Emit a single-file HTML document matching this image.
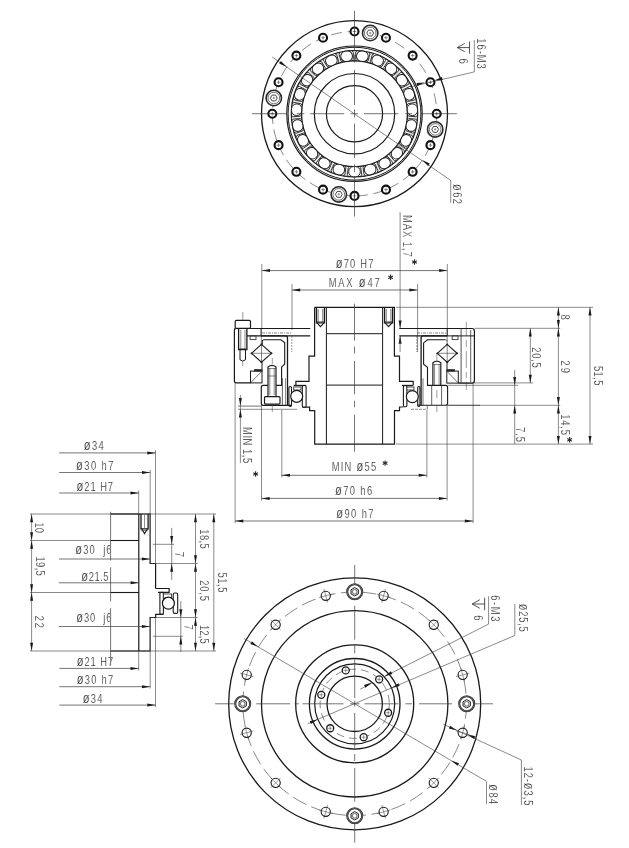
<!DOCTYPE html>
<html><head><meta charset="utf-8"><style>
html,body{margin:0;padding:0;background:#fff;width:629px;height:848px;overflow:hidden}
svg{display:block;filter:grayscale(1)}
text{font-family:"Liberation Sans",sans-serif}
</style></head><body>
<svg width="629" height="848" viewBox="0 0 629 848">
<rect width="629" height="848" fill="#fff"/>
<circle cx="354.50" cy="113.70" r="93.00" stroke="#1a1a1a" stroke-width="1.3" fill="none"/>
<circle cx="354.50" cy="113.70" r="82.20" stroke="#3a3a3a" stroke-width="0.6" fill="none" stroke-dasharray="11 5.5"/>
<circle cx="354.50" cy="31.50" r="4.00" stroke="#111" stroke-width="2.1" fill="#fff"/>
<line x1="352.70" y1="31.50" x2="356.30" y2="31.50" stroke="#3a3a3a" stroke-width="0.6"/>
<line x1="354.50" y1="29.70" x2="354.50" y2="33.30" stroke="#3a3a3a" stroke-width="0.6"/>
<circle cx="385.96" cy="37.76" r="4.00" stroke="#111" stroke-width="2.1" fill="#fff"/>
<line x1="384.16" y1="37.76" x2="387.76" y2="37.76" stroke="#3a3a3a" stroke-width="0.6"/>
<line x1="385.96" y1="35.96" x2="385.96" y2="39.56" stroke="#3a3a3a" stroke-width="0.6"/>
<circle cx="412.62" cy="55.58" r="4.00" stroke="#111" stroke-width="2.1" fill="#fff"/>
<line x1="410.82" y1="55.58" x2="414.42" y2="55.58" stroke="#3a3a3a" stroke-width="0.6"/>
<line x1="412.62" y1="53.78" x2="412.62" y2="57.38" stroke="#3a3a3a" stroke-width="0.6"/>
<circle cx="430.44" cy="82.24" r="4.00" stroke="#111" stroke-width="2.1" fill="#fff"/>
<line x1="428.64" y1="82.24" x2="432.24" y2="82.24" stroke="#3a3a3a" stroke-width="0.6"/>
<line x1="430.44" y1="80.44" x2="430.44" y2="84.04" stroke="#3a3a3a" stroke-width="0.6"/>
<circle cx="436.70" cy="113.70" r="4.00" stroke="#111" stroke-width="2.1" fill="#fff"/>
<line x1="434.90" y1="113.70" x2="438.50" y2="113.70" stroke="#3a3a3a" stroke-width="0.6"/>
<line x1="436.70" y1="111.90" x2="436.70" y2="115.50" stroke="#3a3a3a" stroke-width="0.6"/>
<circle cx="430.44" cy="145.16" r="4.00" stroke="#111" stroke-width="2.1" fill="#fff"/>
<line x1="428.64" y1="145.16" x2="432.24" y2="145.16" stroke="#3a3a3a" stroke-width="0.6"/>
<line x1="430.44" y1="143.36" x2="430.44" y2="146.96" stroke="#3a3a3a" stroke-width="0.6"/>
<circle cx="412.62" cy="171.82" r="4.00" stroke="#111" stroke-width="2.1" fill="#fff"/>
<line x1="410.82" y1="171.82" x2="414.42" y2="171.82" stroke="#3a3a3a" stroke-width="0.6"/>
<line x1="412.62" y1="170.02" x2="412.62" y2="173.62" stroke="#3a3a3a" stroke-width="0.6"/>
<circle cx="385.96" cy="189.64" r="4.00" stroke="#111" stroke-width="2.1" fill="#fff"/>
<line x1="384.16" y1="189.64" x2="387.76" y2="189.64" stroke="#3a3a3a" stroke-width="0.6"/>
<line x1="385.96" y1="187.84" x2="385.96" y2="191.44" stroke="#3a3a3a" stroke-width="0.6"/>
<circle cx="354.50" cy="195.90" r="4.00" stroke="#111" stroke-width="2.1" fill="#fff"/>
<line x1="352.70" y1="195.90" x2="356.30" y2="195.90" stroke="#3a3a3a" stroke-width="0.6"/>
<line x1="354.50" y1="194.10" x2="354.50" y2="197.70" stroke="#3a3a3a" stroke-width="0.6"/>
<circle cx="323.04" cy="189.64" r="4.00" stroke="#111" stroke-width="2.1" fill="#fff"/>
<line x1="321.24" y1="189.64" x2="324.84" y2="189.64" stroke="#3a3a3a" stroke-width="0.6"/>
<line x1="323.04" y1="187.84" x2="323.04" y2="191.44" stroke="#3a3a3a" stroke-width="0.6"/>
<circle cx="296.38" cy="171.82" r="4.00" stroke="#111" stroke-width="2.1" fill="#fff"/>
<line x1="294.58" y1="171.82" x2="298.18" y2="171.82" stroke="#3a3a3a" stroke-width="0.6"/>
<line x1="296.38" y1="170.02" x2="296.38" y2="173.62" stroke="#3a3a3a" stroke-width="0.6"/>
<circle cx="278.56" cy="145.16" r="4.00" stroke="#111" stroke-width="2.1" fill="#fff"/>
<line x1="276.76" y1="145.16" x2="280.36" y2="145.16" stroke="#3a3a3a" stroke-width="0.6"/>
<line x1="278.56" y1="143.36" x2="278.56" y2="146.96" stroke="#3a3a3a" stroke-width="0.6"/>
<circle cx="272.30" cy="113.70" r="4.00" stroke="#111" stroke-width="2.1" fill="#fff"/>
<line x1="270.50" y1="113.70" x2="274.10" y2="113.70" stroke="#3a3a3a" stroke-width="0.6"/>
<line x1="272.30" y1="111.90" x2="272.30" y2="115.50" stroke="#3a3a3a" stroke-width="0.6"/>
<circle cx="278.56" cy="82.24" r="4.00" stroke="#111" stroke-width="2.1" fill="#fff"/>
<line x1="276.76" y1="82.24" x2="280.36" y2="82.24" stroke="#3a3a3a" stroke-width="0.6"/>
<line x1="278.56" y1="80.44" x2="278.56" y2="84.04" stroke="#3a3a3a" stroke-width="0.6"/>
<circle cx="296.38" cy="55.58" r="4.00" stroke="#111" stroke-width="2.1" fill="#fff"/>
<line x1="294.58" y1="55.58" x2="298.18" y2="55.58" stroke="#3a3a3a" stroke-width="0.6"/>
<line x1="296.38" y1="53.78" x2="296.38" y2="57.38" stroke="#3a3a3a" stroke-width="0.6"/>
<circle cx="323.04" cy="37.76" r="4.00" stroke="#111" stroke-width="2.1" fill="#fff"/>
<line x1="321.24" y1="37.76" x2="324.84" y2="37.76" stroke="#3a3a3a" stroke-width="0.6"/>
<line x1="323.04" y1="35.96" x2="323.04" y2="39.56" stroke="#3a3a3a" stroke-width="0.6"/>
<circle cx="370.18" cy="33.01" r="7.70" stroke="#2a2a2a" stroke-width="1.6" fill="#fff"/>
<circle cx="370.18" cy="33.01" r="5.80" stroke="#3a3a3a" stroke-width="0.7" fill="none"/>
<polygon points="373.58,33.01 371.88,35.95 368.48,35.95 366.78,33.01 368.48,30.07 371.88,30.07" stroke="#1a1a1a" stroke-width="0.8" fill="none"/>
<line x1="368.98" y1="33.01" x2="371.38" y2="33.01" stroke="#3a3a3a" stroke-width="0.5"/>
<line x1="370.18" y1="31.81" x2="370.18" y2="34.21" stroke="#3a3a3a" stroke-width="0.5"/>
<circle cx="435.19" cy="129.38" r="7.70" stroke="#2a2a2a" stroke-width="1.6" fill="#fff"/>
<circle cx="435.19" cy="129.38" r="5.80" stroke="#3a3a3a" stroke-width="0.7" fill="none"/>
<polygon points="438.59,129.38 436.89,132.33 433.49,132.33 431.79,129.38 433.49,126.44 436.89,126.44" stroke="#1a1a1a" stroke-width="0.8" fill="none"/>
<line x1="433.99" y1="129.38" x2="436.39" y2="129.38" stroke="#3a3a3a" stroke-width="0.5"/>
<line x1="435.19" y1="128.18" x2="435.19" y2="130.58" stroke="#3a3a3a" stroke-width="0.5"/>
<circle cx="338.82" cy="194.39" r="7.70" stroke="#2a2a2a" stroke-width="1.6" fill="#fff"/>
<circle cx="338.82" cy="194.39" r="5.80" stroke="#3a3a3a" stroke-width="0.7" fill="none"/>
<polygon points="342.22,194.39 340.52,197.33 337.12,197.33 335.42,194.39 337.12,191.45 340.52,191.45" stroke="#1a1a1a" stroke-width="0.8" fill="none"/>
<line x1="337.62" y1="194.39" x2="340.02" y2="194.39" stroke="#3a3a3a" stroke-width="0.5"/>
<line x1="338.82" y1="193.19" x2="338.82" y2="195.59" stroke="#3a3a3a" stroke-width="0.5"/>
<circle cx="273.81" cy="98.02" r="7.70" stroke="#2a2a2a" stroke-width="1.6" fill="#fff"/>
<circle cx="273.81" cy="98.02" r="5.80" stroke="#3a3a3a" stroke-width="0.7" fill="none"/>
<polygon points="277.21,98.02 275.51,100.96 272.11,100.96 270.41,98.02 272.11,95.07 275.51,95.07" stroke="#1a1a1a" stroke-width="0.8" fill="none"/>
<line x1="272.61" y1="98.02" x2="275.01" y2="98.02" stroke="#3a3a3a" stroke-width="0.5"/>
<line x1="273.81" y1="96.82" x2="273.81" y2="99.22" stroke="#3a3a3a" stroke-width="0.5"/>
<circle cx="354.50" cy="113.70" r="67.70" stroke="#1a1a1a" stroke-width="1.2" fill="none"/>
<circle cx="354.50" cy="113.70" r="66.40" stroke="#1a1a1a" stroke-width="1.0" fill="none"/>
<circle cx="354.50" cy="113.70" r="63.20" stroke="#1a1a1a" stroke-width="1.2" fill="none"/>
<circle cx="354.50" cy="113.70" r="52.90" stroke="#1a1a1a" stroke-width="1.2" fill="none"/>
<polygon points="357.20,50.70 355.70,52.20 355.70,59.20 356.90,60.60 352.10,60.60 353.30,59.20 353.30,52.20 351.80,50.70" stroke="#1a1a1a" stroke-width="0.9" fill="#eee"/>
<polygon points="374.10,53.76 372.25,54.80 370.36,61.54 371.14,63.22 366.52,61.92 368.05,60.90 369.94,54.16 368.90,52.31" stroke="#1a1a1a" stroke-width="0.9" fill="#eee"/>
<polygon points="389.54,61.27 387.48,61.78 383.84,67.76 384.14,69.58 380.04,67.08 381.79,66.51 385.43,60.53 384.93,58.47" stroke="#1a1a1a" stroke-width="0.9" fill="#eee"/>
<polygon points="402.39,72.67 400.27,72.60 395.15,77.38 394.95,79.21 391.67,75.70 393.51,75.62 398.63,70.85 398.70,68.73" stroke="#1a1a1a" stroke-width="0.9" fill="#eee"/>
<polygon points="411.68,87.11 409.66,86.47 403.44,89.69 402.75,91.40 400.54,87.14 402.34,87.56 408.55,84.34 409.19,82.32" stroke="#1a1a1a" stroke-width="0.9" fill="#eee"/>
<polygon points="416.73,103.53 414.96,102.36 408.10,103.79 406.98,105.25 406.00,100.55 407.62,101.44 414.47,100.01 415.63,98.24" stroke="#1a1a1a" stroke-width="0.9" fill="#eee"/>
<polygon points="417.17,120.69 415.77,119.09 408.79,118.62 407.31,119.72 407.64,114.93 408.95,116.22 415.94,116.70 417.54,115.31" stroke="#1a1a1a" stroke-width="0.9" fill="#eee"/>
<polygon points="412.96,137.34 412.05,135.43 405.45,133.08 403.73,133.74 405.34,129.22 406.26,130.82 412.85,133.16 414.77,132.25" stroke="#1a1a1a" stroke-width="0.9" fill="#eee"/>
<polygon points="404.41,152.24 404.05,150.15 398.33,146.11 396.50,146.28 399.27,142.36 399.72,144.15 405.44,148.19 407.53,147.83" stroke="#1a1a1a" stroke-width="0.9" fill="#eee"/>
<polygon points="392.16,164.27 392.38,162.16 387.96,156.73 386.15,156.40 389.87,153.38 389.83,155.22 394.24,160.65 396.35,160.87" stroke="#1a1a1a" stroke-width="0.9" fill="#eee"/>
<polygon points="377.12,172.56 377.90,170.59 375.11,164.17 373.45,163.36 377.86,161.45 377.31,163.21 380.10,169.63 382.08,170.41" stroke="#1a1a1a" stroke-width="0.9" fill="#eee"/>
<polygon points="360.40,176.48 361.69,174.79 360.73,167.86 359.35,166.63 364.11,165.98 363.11,167.53 364.06,174.46 365.75,175.75" stroke="#1a1a1a" stroke-width="0.9" fill="#eee"/>
<polygon points="343.25,175.75 344.94,174.46 345.89,167.53 344.89,165.98 349.65,166.63 348.27,167.86 347.31,174.79 348.60,176.48" stroke="#1a1a1a" stroke-width="0.9" fill="#eee"/>
<polygon points="326.92,170.41 328.90,169.63 331.69,163.21 331.14,161.45 335.55,163.36 333.89,164.17 331.10,170.59 331.88,172.56" stroke="#1a1a1a" stroke-width="0.9" fill="#eee"/>
<polygon points="312.65,160.87 314.76,160.65 319.17,155.22 319.13,153.38 322.85,156.40 321.04,156.73 316.62,162.16 316.84,164.27" stroke="#1a1a1a" stroke-width="0.9" fill="#eee"/>
<polygon points="301.47,147.83 303.56,148.19 309.28,144.15 309.73,142.36 312.50,146.28 310.67,146.11 304.95,150.15 304.59,152.24" stroke="#1a1a1a" stroke-width="0.9" fill="#eee"/>
<polygon points="294.23,132.25 296.15,133.16 302.74,130.82 303.66,129.22 305.27,133.74 303.55,133.08 296.95,135.43 296.04,137.34" stroke="#1a1a1a" stroke-width="0.9" fill="#eee"/>
<polygon points="291.46,115.31 293.06,116.70 300.05,116.22 301.36,114.93 301.69,119.72 300.21,118.62 293.23,119.09 291.83,120.69" stroke="#1a1a1a" stroke-width="0.9" fill="#eee"/>
<polygon points="293.37,98.24 294.53,100.01 301.38,101.44 303.00,100.55 302.02,105.25 300.90,103.79 294.04,102.36 292.27,103.53" stroke="#1a1a1a" stroke-width="0.9" fill="#eee"/>
<polygon points="299.81,82.32 300.45,84.34 306.66,87.56 308.46,87.14 306.25,91.40 305.56,89.69 299.34,86.47 297.32,87.11" stroke="#1a1a1a" stroke-width="0.9" fill="#eee"/>
<polygon points="310.30,68.73 310.37,70.85 315.49,75.62 317.33,75.70 314.05,79.21 313.85,77.38 308.73,72.60 306.61,72.67" stroke="#1a1a1a" stroke-width="0.9" fill="#eee"/>
<polygon points="324.07,58.47 323.57,60.53 327.21,66.51 328.96,67.08 324.86,69.58 325.16,67.76 321.52,61.78 319.46,61.27" stroke="#1a1a1a" stroke-width="0.9" fill="#eee"/>
<polygon points="340.10,52.31 339.06,54.16 340.95,60.90 342.48,61.92 337.86,63.22 338.64,61.54 336.75,54.80 334.90,53.76" stroke="#1a1a1a" stroke-width="0.9" fill="#eee"/>
<rect x="356.60" y="51.14" width="11.6" height="10.2" rx="4.8" stroke="#1a1a1a" stroke-width="0.95" fill="#fff" transform="rotate(7.83 362.40 56.24)"/>
<rect x="371.81" y="55.40" width="11.6" height="10.2" rx="4.8" stroke="#1a1a1a" stroke-width="0.95" fill="#fff" transform="rotate(23.48 377.61 60.50)"/>
<rect x="385.30" y="63.61" width="11.6" height="10.2" rx="4.8" stroke="#1a1a1a" stroke-width="0.95" fill="#fff" transform="rotate(39.13 391.10 68.71)"/>
<rect x="396.08" y="75.15" width="11.6" height="10.2" rx="4.8" stroke="#1a1a1a" stroke-width="0.95" fill="#fff" transform="rotate(54.78 401.88 80.25)"/>
<rect x="403.35" y="89.18" width="11.6" height="10.2" rx="4.8" stroke="#1a1a1a" stroke-width="0.95" fill="#fff" transform="rotate(70.43 409.15 94.28)"/>
<rect x="406.56" y="104.64" width="11.6" height="10.2" rx="4.8" stroke="#1a1a1a" stroke-width="0.95" fill="#fff" transform="rotate(86.09 412.36 109.74)"/>
<rect x="405.49" y="120.40" width="11.6" height="10.2" rx="4.8" stroke="#1a1a1a" stroke-width="0.95" fill="#fff" transform="rotate(101.74 411.29 125.50)"/>
<rect x="400.20" y="135.28" width="11.6" height="10.2" rx="4.8" stroke="#1a1a1a" stroke-width="0.95" fill="#fff" transform="rotate(117.39 406.00 140.38)"/>
<rect x="391.09" y="148.19" width="11.6" height="10.2" rx="4.8" stroke="#1a1a1a" stroke-width="0.95" fill="#fff" transform="rotate(133.04 396.89 153.29)"/>
<rect x="378.84" y="158.16" width="11.6" height="10.2" rx="4.8" stroke="#1a1a1a" stroke-width="0.95" fill="#fff" transform="rotate(148.70 384.64 163.26)"/>
<rect x="364.35" y="164.45" width="11.6" height="10.2" rx="4.8" stroke="#1a1a1a" stroke-width="0.95" fill="#fff" transform="rotate(164.35 370.15 169.55)"/>
<rect x="348.70" y="166.60" width="11.6" height="10.2" rx="4.8" stroke="#1a1a1a" stroke-width="0.95" fill="#fff" transform="rotate(180.00 354.50 171.70)"/>
<rect x="333.05" y="164.45" width="11.6" height="10.2" rx="4.8" stroke="#1a1a1a" stroke-width="0.95" fill="#fff" transform="rotate(195.65 338.85 169.55)"/>
<rect x="318.56" y="158.16" width="11.6" height="10.2" rx="4.8" stroke="#1a1a1a" stroke-width="0.95" fill="#fff" transform="rotate(211.30 324.36 163.26)"/>
<rect x="306.31" y="148.19" width="11.6" height="10.2" rx="4.8" stroke="#1a1a1a" stroke-width="0.95" fill="#fff" transform="rotate(226.96 312.11 153.29)"/>
<rect x="297.20" y="135.28" width="11.6" height="10.2" rx="4.8" stroke="#1a1a1a" stroke-width="0.95" fill="#fff" transform="rotate(242.61 303.00 140.38)"/>
<rect x="291.91" y="120.40" width="11.6" height="10.2" rx="4.8" stroke="#1a1a1a" stroke-width="0.95" fill="#fff" transform="rotate(258.26 297.71 125.50)"/>
<rect x="290.84" y="104.64" width="11.6" height="10.2" rx="4.8" stroke="#1a1a1a" stroke-width="0.95" fill="#fff" transform="rotate(273.91 296.64 109.74)"/>
<rect x="294.05" y="89.18" width="11.6" height="10.2" rx="4.8" stroke="#1a1a1a" stroke-width="0.95" fill="#fff" transform="rotate(289.57 299.85 94.28)"/>
<rect x="301.32" y="75.15" width="11.6" height="10.2" rx="4.8" stroke="#1a1a1a" stroke-width="0.95" fill="#fff" transform="rotate(305.22 307.12 80.25)"/>
<rect x="312.10" y="63.61" width="11.6" height="10.2" rx="4.8" stroke="#1a1a1a" stroke-width="0.95" fill="#fff" transform="rotate(320.87 317.90 68.71)"/>
<rect x="325.59" y="55.40" width="11.6" height="10.2" rx="4.8" stroke="#1a1a1a" stroke-width="0.95" fill="#fff" transform="rotate(336.52 331.39 60.50)"/>
<rect x="340.80" y="51.14" width="11.6" height="10.2" rx="4.8" stroke="#1a1a1a" stroke-width="0.95" fill="#fff" transform="rotate(352.17 346.60 56.24)"/>
<circle cx="354.50" cy="113.70" r="40.20" stroke="#1a1a1a" stroke-width="1.2" fill="none"/>
<circle cx="354.50" cy="113.70" r="28.10" stroke="#1a1a1a" stroke-width="1.2" fill="none"/>
<line x1="354.50" y1="10.80" x2="354.50" y2="50.50" stroke="#3a3a3a" stroke-width="0.7"/>
<line x1="354.50" y1="54.70" x2="354.50" y2="62.50" stroke="#3a3a3a" stroke-width="0.7"/>
<line x1="354.50" y1="69.90" x2="354.50" y2="105.00" stroke="#3a3a3a" stroke-width="0.7"/>
<line x1="354.50" y1="109.50" x2="354.50" y2="117.50" stroke="#3a3a3a" stroke-width="0.7"/>
<line x1="354.50" y1="123.60" x2="354.50" y2="158.00" stroke="#3a3a3a" stroke-width="0.7"/>
<line x1="354.50" y1="164.50" x2="354.50" y2="172.30" stroke="#3a3a3a" stroke-width="0.7"/>
<line x1="354.50" y1="176.20" x2="354.50" y2="216.50" stroke="#3a3a3a" stroke-width="0.7"/>
<line x1="252.00" y1="113.70" x2="286.70" y2="113.70" stroke="#3a3a3a" stroke-width="0.7"/>
<line x1="296.70" y1="113.70" x2="304.30" y2="113.70" stroke="#3a3a3a" stroke-width="0.7"/>
<line x1="310.10" y1="113.70" x2="344.30" y2="113.70" stroke="#3a3a3a" stroke-width="0.7"/>
<line x1="350.50" y1="113.70" x2="358.00" y2="113.70" stroke="#3a3a3a" stroke-width="0.7"/>
<line x1="364.00" y1="113.70" x2="398.40" y2="113.70" stroke="#3a3a3a" stroke-width="0.7"/>
<line x1="405.30" y1="113.70" x2="412.10" y2="113.70" stroke="#3a3a3a" stroke-width="0.7"/>
<line x1="420.00" y1="113.70" x2="456.80" y2="113.70" stroke="#3a3a3a" stroke-width="0.7"/>
<line x1="272.20" y1="57.00" x2="450.70" y2="180.40" stroke="#3a3a3a" stroke-width="0.6"/>
<line x1="450.70" y1="180.40" x2="450.70" y2="202.80" stroke="#3a3a3a" stroke-width="0.6"/>
<path d="M286.80,66.90 L279.19,63.49 L280.89,61.02 Z" fill="#1a1a1a"/>
<path d="M422.20,160.10 L429.81,163.51 L428.11,165.98 Z" fill="#1a1a1a"/>
<line x1="412.00" y1="86.50" x2="474.30" y2="71.90" stroke="#3a3a3a" stroke-width="0.6"/>
<line x1="474.30" y1="71.90" x2="474.30" y2="40.00" stroke="#3a3a3a" stroke-width="0.6"/>
<path d="M434.30,80.40 L441.95,77.08 L442.63,80.00 Z" fill="#1a1a1a"/>
<path d="M424.90,82.60 L417.25,85.92 L416.57,83.00 Z" fill="#1a1a1a"/>
<path d="M464.80,43.40 L457.40,47.60 L464.80,51.80" stroke="#2a2a2a" stroke-width="0.8" fill="none"/>
<line x1="457.40" y1="47.60" x2="469.50" y2="47.60" stroke="#2a2a2a" stroke-width="0.8"/>
<line x1="469.50" y1="41.50" x2="469.50" y2="53.70" stroke="#2a2a2a" stroke-width="0.8"/>
<line x1="400.10" y1="212.00" x2="400.10" y2="328.60" stroke="#3a3a3a" stroke-width="0.6"/>
<line x1="261.80" y1="270.60" x2="447.30" y2="270.60" stroke="#3a3a3a" stroke-width="0.7"/>
<path d="M261.80,270.60 L270.00,269.10 L270.00,272.10 Z" fill="#1a1a1a"/>
<path d="M447.30,270.60 L439.10,272.10 L439.10,269.10 Z" fill="#1a1a1a"/>
<line x1="292.00" y1="290.00" x2="417.60" y2="290.00" stroke="#3a3a3a" stroke-width="0.7"/>
<path d="M292.00,290.00 L300.20,288.50 L300.20,291.50 Z" fill="#1a1a1a"/>
<path d="M417.60,290.00 L409.40,291.50 L409.40,288.50 Z" fill="#1a1a1a"/>
<line x1="261.80" y1="264.00" x2="261.80" y2="328.60" stroke="#3a3a3a" stroke-width="0.6"/>
<line x1="447.30" y1="264.00" x2="447.30" y2="328.60" stroke="#3a3a3a" stroke-width="0.6"/>
<line x1="292.00" y1="284.00" x2="292.00" y2="330.00" stroke="#3a3a3a" stroke-width="0.6"/>
<line x1="417.60" y1="284.00" x2="417.60" y2="352.00" stroke="#3a3a3a" stroke-width="0.6"/>
<path d="M314.6,307.4 H394.4 V356.2 H399.5 V381.4 H413.2 V385.5 M403.4,407.0 H399.5 V410.6 H394.5 V444.1 H314.7 V410.6 H309.6 V407.2 H302.3 M295.9,385.5 V381.4 H309.0 V356.2 H314.6 V307.4" stroke="#1a1a1a" stroke-width="1.2" fill="none"/>
<line x1="326.40" y1="307.40" x2="326.40" y2="444.10" stroke="#1a1a1a" stroke-width="1.0"/>
<line x1="382.60" y1="307.40" x2="382.60" y2="444.10" stroke="#1a1a1a" stroke-width="1.0"/>
<line x1="326.40" y1="333.70" x2="382.60" y2="333.70" stroke="#1a1a1a" stroke-width="1.0"/>
<line x1="326.40" y1="385.10" x2="382.60" y2="385.10" stroke="#1a1a1a" stroke-width="1.0"/>
<line x1="354.50" y1="303.60" x2="354.50" y2="340.60" stroke="#3a3a3a" stroke-width="0.7"/>
<line x1="354.50" y1="346.50" x2="354.50" y2="353.60" stroke="#3a3a3a" stroke-width="0.7"/>
<line x1="354.50" y1="361.00" x2="354.50" y2="394.30" stroke="#3a3a3a" stroke-width="0.7"/>
<line x1="354.50" y1="400.80" x2="354.50" y2="407.30" stroke="#3a3a3a" stroke-width="0.7"/>
<line x1="354.50" y1="414.70" x2="354.50" y2="451.70" stroke="#3a3a3a" stroke-width="0.7"/>
<path d="M316.4,307.4 V322.8 H324.5 V307.4" stroke="#1a1a1a" stroke-width="1.3" fill="none"/>
<path d="M317.0,322.8 L320.45,326.7 L323.9,322.8" stroke="#1a1a1a" stroke-width="1.1" fill="none"/>
<line x1="318.10" y1="309.00" x2="318.10" y2="322.00" stroke="#3a3a3a" stroke-width="0.7"/>
<line x1="322.80" y1="309.00" x2="322.80" y2="322.00" stroke="#3a3a3a" stroke-width="0.7"/>
<line x1="316.40" y1="321.60" x2="324.50" y2="321.60" stroke="#3a3a3a" stroke-width="0.6"/>
<path d="M384.5,307.4 V322.8 H392.6 V307.4" stroke="#1a1a1a" stroke-width="1.3" fill="none"/>
<path d="M385.1,322.8 L388.55,326.7 L392.0,322.8" stroke="#1a1a1a" stroke-width="1.1" fill="none"/>
<line x1="386.20" y1="309.00" x2="386.20" y2="322.00" stroke="#3a3a3a" stroke-width="0.7"/>
<line x1="390.90" y1="309.00" x2="390.90" y2="322.00" stroke="#3a3a3a" stroke-width="0.7"/>
<line x1="384.50" y1="321.60" x2="392.60" y2="321.60" stroke="#3a3a3a" stroke-width="0.6"/>
<rect x="288.9" y="386.5" width="2.60" height="20.00" rx="1.2" stroke="#1a1a1a" stroke-width="1.1" fill="#fff"/>
<rect x="302.3" y="385.5" width="3.80" height="21.60" rx="1.2" stroke="#1a1a1a" stroke-width="1.1" fill="#fff"/>
<line x1="293.70" y1="385.50" x2="306.10" y2="385.50" stroke="#1a1a1a" stroke-width="1.3"/>
<rect x="293.70" y="387.00" width="7.30" height="3.00" rx="0" stroke="#3a3a3a" stroke-width="0.9" fill="#fff"/>
<circle cx="296.70" cy="396.30" r="6.00" stroke="#1a1a1a" stroke-width="1.2" fill="#fff"/>
<rect x="417.7" y="386.5" width="2.20" height="20.00" rx="1.2" stroke="#1a1a1a" stroke-width="1.1" fill="#fff"/>
<rect x="403.4" y="385.5" width="3.50" height="21.30" rx="1.2" stroke="#1a1a1a" stroke-width="1.1" fill="#fff"/>
<line x1="401.80" y1="385.50" x2="412.90" y2="385.50" stroke="#1a1a1a" stroke-width="1.3"/>
<rect x="406.90" y="387.00" width="7.10" height="3.00" rx="0" stroke="#3a3a3a" stroke-width="0.9" fill="#fff"/>
<circle cx="412.30" cy="396.60" r="6.00" stroke="#1a1a1a" stroke-width="1.2" fill="#fff"/>
<line x1="234.40" y1="328.50" x2="310.30" y2="328.50" stroke="#1a1a1a" stroke-width="1.2"/>
<line x1="399.30" y1="328.50" x2="472.00" y2="328.50" stroke="#1a1a1a" stroke-width="1.2"/>
<line x1="246.90" y1="335.80" x2="310.30" y2="335.80" stroke="#1a1a1a" stroke-width="1.2"/>
<line x1="399.30" y1="335.80" x2="447.20" y2="335.80" stroke="#1a1a1a" stroke-width="1.2"/>
<line x1="262.00" y1="333.00" x2="292.00" y2="333.00" stroke="#3a3a3a" stroke-width="0.6" stroke-dasharray="3 1 1 1"/>
<line x1="417.00" y1="333.00" x2="447.00" y2="333.00" stroke="#3a3a3a" stroke-width="0.6" stroke-dasharray="3 1 1 1"/>
<line x1="291.80" y1="336.00" x2="291.80" y2="352.00" stroke="#3a3a3a" stroke-width="0.5" stroke-dasharray="2 1"/>
<line x1="416.80" y1="336.00" x2="416.80" y2="352.00" stroke="#3a3a3a" stroke-width="0.5" stroke-dasharray="2 1"/>
<path d="M236.4,328.5 Q234.4,328.5 234.4,330.5 V380.8 Q234.4,382.9 236.4,382.9 H250.5" stroke="#1a1a1a" stroke-width="1.2" fill="none"/>
<line x1="261.10" y1="328.50" x2="261.10" y2="335.80" stroke="#1a1a1a" stroke-width="1.1"/>
<rect x="250.10" y="335.80" width="5.90" height="3.80" rx="0" stroke="#3a3a3a" stroke-width="0.9" fill="none"/>
<path d="M447.2,328.5 H472.0 Q474.4,328.5 474.4,331 V380.5 Q474.4,383.1 472,383.1 H458.3" stroke="#1a1a1a" stroke-width="1.2" fill="none"/>
<line x1="461.10" y1="328.50" x2="461.10" y2="383.10" stroke="#3a3a3a" stroke-width="0.9"/>
<line x1="470.70" y1="330.00" x2="470.70" y2="382.00" stroke="#3a3a3a" stroke-width="0.8"/>
<line x1="447.20" y1="335.90" x2="474.40" y2="335.90" stroke="#1a1a1a" stroke-width="1.0"/>
<line x1="466.30" y1="322.00" x2="466.30" y2="336.00" stroke="#3a3a3a" stroke-width="0.5"/>
<line x1="466.30" y1="340.00" x2="466.30" y2="347.00" stroke="#3a3a3a" stroke-width="0.5"/>
<line x1="466.30" y1="351.00" x2="466.30" y2="368.00" stroke="#3a3a3a" stroke-width="0.5"/>
<line x1="466.30" y1="372.00" x2="466.30" y2="378.00" stroke="#3a3a3a" stroke-width="0.5"/>
<line x1="466.30" y1="382.00" x2="466.30" y2="390.00" stroke="#3a3a3a" stroke-width="0.5"/>
<line x1="447.20" y1="328.50" x2="447.20" y2="335.80" stroke="#1a1a1a" stroke-width="1.1"/>
<rect x="452.20" y="335.80" width="5.80" height="3.80" rx="0" stroke="#3a3a3a" stroke-width="0.9" fill="none"/>
<rect x="235.2" y="320.3" width="15.3" height="8.1" rx="1.2" stroke="#1a1a1a" stroke-width="1.2" fill="#fff"/>
<path d="M238.6,328.4 V349.7 H246.9 V328.4" stroke="#1a1a1a" stroke-width="1.3" fill="none"/>
<path d="M240.0,349.7 V359.8 L242.75,361.0 L245.5,359.8 V349.7" stroke="#1a1a1a" stroke-width="1.0" fill="none"/>
<line x1="240.80" y1="330.00" x2="240.80" y2="349.00" stroke="#3a3a3a" stroke-width="0.6"/>
<line x1="245.00" y1="330.00" x2="245.00" y2="349.00" stroke="#3a3a3a" stroke-width="0.6"/>
<line x1="238.60" y1="348.60" x2="246.90" y2="348.60" stroke="#3a3a3a" stroke-width="0.6"/>
<line x1="242.75" y1="312.00" x2="242.75" y2="320.30" stroke="#3a3a3a" stroke-width="0.5"/>
<line x1="242.75" y1="361.00" x2="242.75" y2="366.00" stroke="#3a3a3a" stroke-width="0.5"/>
<path d="M251.5,353.3 L261.5,344.40000000000003 L271.5,353.3 L261.5,362.2 Z" stroke="#1a1a1a" stroke-width="1.1" fill="none"/>
<line x1="251.50" y1="353.30" x2="271.50" y2="353.30" stroke="#3a3a3a" stroke-width="0.6"/>
<line x1="261.50" y1="344.40" x2="261.50" y2="362.20" stroke="#3a3a3a" stroke-width="0.6"/>
<circle cx="251.50" cy="353.30" r="0.90" stroke="#3a3a3a" stroke-width="0.1" fill="#1a1a1a"/>
<circle cx="261.50" cy="344.40" r="0.90" stroke="#3a3a3a" stroke-width="0.1" fill="#1a1a1a"/>
<circle cx="271.50" cy="353.30" r="0.90" stroke="#3a3a3a" stroke-width="0.1" fill="#1a1a1a"/>
<circle cx="261.50" cy="362.20" r="0.90" stroke="#3a3a3a" stroke-width="0.1" fill="#1a1a1a"/>
<path d="M437.3,353.3 L447.2,344.40000000000003 L457.09999999999997,353.3 L447.2,362.2 Z" stroke="#1a1a1a" stroke-width="1.1" fill="none"/>
<line x1="437.30" y1="353.30" x2="457.10" y2="353.30" stroke="#3a3a3a" stroke-width="0.6"/>
<line x1="447.20" y1="344.40" x2="447.20" y2="362.20" stroke="#3a3a3a" stroke-width="0.6"/>
<circle cx="437.30" cy="353.30" r="0.90" stroke="#3a3a3a" stroke-width="0.1" fill="#1a1a1a"/>
<circle cx="447.20" cy="344.40" r="0.90" stroke="#3a3a3a" stroke-width="0.1" fill="#1a1a1a"/>
<circle cx="457.10" cy="353.30" r="0.90" stroke="#3a3a3a" stroke-width="0.1" fill="#1a1a1a"/>
<circle cx="447.20" cy="362.20" r="0.90" stroke="#3a3a3a" stroke-width="0.1" fill="#1a1a1a"/>
<line x1="261.30" y1="335.80" x2="261.30" y2="344.40" stroke="#3a3a3a" stroke-width="0.6"/>
<line x1="262.00" y1="362.20" x2="262.00" y2="371.10" stroke="#1a1a1a" stroke-width="1.0"/>
<line x1="447.20" y1="335.80" x2="447.20" y2="344.40" stroke="#3a3a3a" stroke-width="0.6"/>
<line x1="447.00" y1="362.20" x2="447.00" y2="371.10" stroke="#1a1a1a" stroke-width="1.0"/>
<rect x="250.50" y="371.10" width="11.50" height="11.80" rx="0" stroke="#1a1a1a" stroke-width="1.0" fill="none"/>
<line x1="250.50" y1="382.90" x2="262.00" y2="371.10" stroke="#3a3a3a" stroke-width="0.7"/>
<rect x="254.50" y="369.60" width="7.50" height="1.50" rx="0" stroke="#3a3a3a" stroke-width="0.9" fill="#1a1a1a"/>
<rect x="446.80" y="371.10" width="11.50" height="12.00" rx="0" stroke="#1a1a1a" stroke-width="1.0" fill="none"/>
<line x1="446.80" y1="371.10" x2="458.30" y2="383.10" stroke="#3a3a3a" stroke-width="0.7"/>
<rect x="446.80" y="369.60" width="7.70" height="1.50" rx="0" stroke="#3a3a3a" stroke-width="0.9" fill="#1a1a1a"/>
<path d="M261.1,335.8 H285.5 Q287.5,335.8 287.5,337.8 V405.3" stroke="#1a1a1a" stroke-width="1.3" fill="none"/>
<path d="M262.2,344.4 V341.7 Q262.2,339.7 264.2,339.7 H280.8 L284.7,342.5 V364.0 L281.6,367.2 V385.4 H276.0" stroke="#1a1a1a" stroke-width="1.1" fill="none"/>
<path d="M268.0,385.4 H263.3 Q261.3,385.4 261.3,387.4 V403.3 Q261.3,405.3 263.3,405.3 H291.5" stroke="#1a1a1a" stroke-width="1.2" fill="none"/>
<line x1="282.40" y1="378.30" x2="282.40" y2="405.30" stroke="#3a3a3a" stroke-width="0.8"/>
<line x1="285.50" y1="378.30" x2="285.50" y2="405.30" stroke="#3a3a3a" stroke-width="0.6"/>
<path d="M447.2,335.8 H423.1 Q421.1,335.8 421.1,337.8 V405.3" stroke="#1a1a1a" stroke-width="1.3" fill="none"/>
<path d="M445.4,339.7 H427.5 L423.6,342.9 V364.3 L427.5,367.2 V385.4 H445.6 Q447.6,385.4 447.6,387.4 V403.3 Q447.6,405.3 445.6,405.3 H417.4" stroke="#1a1a1a" stroke-width="1.1" fill="none"/>
<path d="M445.4,339.7 Q447.2,339.7 447.2,341.5" stroke="#3a3a3a" stroke-width="0.8" fill="none"/>
<line x1="423.00" y1="378.30" x2="423.00" y2="405.30" stroke="#3a3a3a" stroke-width="0.7"/>
<line x1="431.70" y1="385.40" x2="431.70" y2="405.30" stroke="#3a3a3a" stroke-width="0.8"/>
<line x1="441.60" y1="385.40" x2="441.60" y2="405.30" stroke="#3a3a3a" stroke-width="0.8"/>
<rect x="264.5" y="396.6" width="15.5" height="7.5" rx="1" stroke="#1a1a1a" stroke-width="1.2" fill="#fff"/>
<path d="M268.0,396.6 V367.0 Q272.0,363.8 276.0,367.0 V396.6" stroke="#1a1a1a" stroke-width="1.2" fill="none"/>
<line x1="269.80" y1="368.00" x2="269.80" y2="395.00" stroke="#3a3a3a" stroke-width="0.6"/>
<line x1="274.20" y1="368.00" x2="274.20" y2="395.00" stroke="#3a3a3a" stroke-width="0.6"/>
<line x1="268.00" y1="376.00" x2="276.00" y2="376.00" stroke="#3a3a3a" stroke-width="0.6"/>
<line x1="268.00" y1="368.50" x2="276.00" y2="368.50" stroke="#3a3a3a" stroke-width="0.6"/>
<line x1="272.30" y1="358.00" x2="272.30" y2="364.00" stroke="#3a3a3a" stroke-width="0.5"/>
<line x1="272.30" y1="404.10" x2="272.30" y2="412.00" stroke="#3a3a3a" stroke-width="0.5"/>
<path d="M432.9,385.4 V362.8 Q436.85,359.6 440.8,362.8 V385.4" stroke="#1a1a1a" stroke-width="1.2" fill="none"/>
<line x1="434.60" y1="364.00" x2="434.60" y2="385.00" stroke="#3a3a3a" stroke-width="0.6"/>
<line x1="439.10" y1="364.00" x2="439.10" y2="385.00" stroke="#3a3a3a" stroke-width="0.6"/>
<line x1="432.90" y1="364.50" x2="440.80" y2="364.50" stroke="#3a3a3a" stroke-width="0.6"/>
<line x1="436.85" y1="354.00" x2="436.85" y2="360.00" stroke="#3a3a3a" stroke-width="0.5"/>
<line x1="436.85" y1="390.00" x2="436.85" y2="398.00" stroke="#3a3a3a" stroke-width="0.5"/>
<line x1="436.85" y1="405.30" x2="436.85" y2="412.00" stroke="#3a3a3a" stroke-width="0.5"/>
<line x1="238.00" y1="406.10" x2="261.30" y2="406.10" stroke="#3a3a3a" stroke-width="0.7"/>
<line x1="238.00" y1="409.30" x2="297.00" y2="409.30" stroke="#3a3a3a" stroke-width="0.6"/>
<line x1="411.00" y1="409.30" x2="427.30" y2="409.30" stroke="#3a3a3a" stroke-width="0.6" stroke-dasharray="3 1"/>
<line x1="427.30" y1="405.30" x2="427.30" y2="409.30" stroke="#3a3a3a" stroke-width="0.7"/>
<line x1="447.60" y1="405.30" x2="480.00" y2="405.30" stroke="#3a3a3a" stroke-width="0.7"/>
<line x1="458.30" y1="382.90" x2="533.00" y2="382.90" stroke="#3a3a3a" stroke-width="0.6"/>
<line x1="447.60" y1="385.30" x2="518.00" y2="385.30" stroke="#3a3a3a" stroke-width="0.6"/>
<line x1="395.70" y1="307.30" x2="593.00" y2="307.30" stroke="#3a3a3a" stroke-width="0.6"/>
<line x1="474.60" y1="328.30" x2="560.20" y2="328.30" stroke="#3a3a3a" stroke-width="0.6"/>
<line x1="447.60" y1="405.30" x2="560.20" y2="405.30" stroke="#3a3a3a" stroke-width="0.6"/>
<line x1="396.00" y1="444.10" x2="593.00" y2="444.10" stroke="#3a3a3a" stroke-width="0.6"/>
<line x1="558.40" y1="307.30" x2="558.40" y2="444.10" stroke="#3a3a3a" stroke-width="0.6"/>
<path d="M558.40,307.30 L559.90,315.50 L556.90,315.50 Z" fill="#1a1a1a"/>
<path d="M558.40,328.30 L556.90,320.10 L559.90,320.10 Z" fill="#1a1a1a"/>
<path d="M558.40,328.30 L559.90,336.50 L556.90,336.50 Z" fill="#1a1a1a"/>
<path d="M558.40,405.30 L556.90,397.10 L559.90,397.10 Z" fill="#1a1a1a"/>
<path d="M558.40,405.30 L559.90,413.50 L556.90,413.50 Z" fill="#1a1a1a"/>
<path d="M558.40,444.10 L556.90,435.90 L559.90,435.90 Z" fill="#1a1a1a"/>
<line x1="590.00" y1="307.30" x2="590.00" y2="444.10" stroke="#3a3a3a" stroke-width="0.6"/>
<path d="M590.00,307.30 L591.50,315.50 L588.50,315.50 Z" fill="#1a1a1a"/>
<path d="M590.00,444.10 L588.50,435.90 L591.50,435.90 Z" fill="#1a1a1a"/>
<line x1="530.30" y1="328.30" x2="530.30" y2="382.90" stroke="#3a3a3a" stroke-width="0.6"/>
<path d="M530.30,328.30 L531.80,336.50 L528.80,336.50 Z" fill="#1a1a1a"/>
<path d="M530.30,382.90 L528.80,374.70 L531.80,374.70 Z" fill="#1a1a1a"/>
<line x1="514.70" y1="370.00" x2="514.70" y2="444.10" stroke="#3a3a3a" stroke-width="0.6"/>
<path d="M514.70,385.30 L513.20,377.10 L516.20,377.10 Z" fill="#1a1a1a"/>
<path d="M514.70,405.30 L516.20,413.50 L513.20,413.50 Z" fill="#1a1a1a"/>
<line x1="281.80" y1="410.00" x2="281.80" y2="477.50" stroke="#3a3a3a" stroke-width="0.6"/>
<line x1="426.90" y1="410.00" x2="426.90" y2="477.50" stroke="#3a3a3a" stroke-width="0.6"/>
<line x1="261.50" y1="405.00" x2="261.50" y2="500.60" stroke="#3a3a3a" stroke-width="0.6"/>
<line x1="447.10" y1="405.00" x2="447.10" y2="500.60" stroke="#3a3a3a" stroke-width="0.6"/>
<line x1="235.10" y1="383.00" x2="235.10" y2="523.20" stroke="#3a3a3a" stroke-width="0.6"/>
<line x1="473.10" y1="383.00" x2="473.10" y2="523.20" stroke="#3a3a3a" stroke-width="0.6"/>
<line x1="281.80" y1="475.30" x2="426.90" y2="475.30" stroke="#3a3a3a" stroke-width="0.7"/>
<path d="M281.80,475.30 L290.00,473.80 L290.00,476.80 Z" fill="#1a1a1a"/>
<path d="M426.90,475.30 L418.70,476.80 L418.70,473.80 Z" fill="#1a1a1a"/>
<line x1="261.50" y1="498.40" x2="447.10" y2="498.40" stroke="#3a3a3a" stroke-width="0.7"/>
<path d="M261.50,498.40 L269.70,496.90 L269.70,499.90 Z" fill="#1a1a1a"/>
<path d="M447.10,498.40 L438.90,499.90 L438.90,496.90 Z" fill="#1a1a1a"/>
<line x1="235.10" y1="521.00" x2="473.10" y2="521.00" stroke="#3a3a3a" stroke-width="0.7"/>
<path d="M235.10,521.00 L243.30,519.50 L243.30,522.50 Z" fill="#1a1a1a"/>
<path d="M473.10,521.00 L464.90,522.50 L464.90,519.50 Z" fill="#1a1a1a"/>
<line x1="240.40" y1="395.00" x2="240.40" y2="463.00" stroke="#3a3a3a" stroke-width="0.6"/>
<path d="M240.40,406.10 L238.90,397.90 L241.90,397.90 Z" fill="#1a1a1a"/>
<path d="M240.40,409.30 L241.90,417.50 L238.90,417.50 Z" fill="#1a1a1a"/>
<path d="M400.10,328.60 L398.60,320.40 L401.60,320.40 Z" fill="#1a1a1a"/>
<path d="M400.10,335.50 L401.60,343.70 L398.60,343.70 Z" fill="#1a1a1a"/>
<line x1="400.10" y1="335.50" x2="400.10" y2="352.00" stroke="#3a3a3a" stroke-width="0.6"/>
<line x1="59.20" y1="452.90" x2="155.50" y2="452.90" stroke="#3a3a3a" stroke-width="0.7"/>
<path d="M155.50,452.90 L147.30,454.40 L147.30,451.40 Z" fill="#1a1a1a"/>
<line x1="59.20" y1="472.50" x2="150.20" y2="472.50" stroke="#3a3a3a" stroke-width="0.7"/>
<path d="M150.20,472.50 L142.00,474.00 L142.00,471.00 Z" fill="#1a1a1a"/>
<line x1="59.20" y1="493.00" x2="138.70" y2="493.00" stroke="#3a3a3a" stroke-width="0.7"/>
<path d="M138.70,493.00 L130.50,494.50 L130.50,491.50 Z" fill="#1a1a1a"/>
<line x1="155.50" y1="450.20" x2="155.50" y2="563.50" stroke="#3a3a3a" stroke-width="0.6"/>
<line x1="150.20" y1="470.00" x2="150.20" y2="514.00" stroke="#3a3a3a" stroke-width="0.6"/>
<line x1="138.70" y1="490.50" x2="138.70" y2="514.00" stroke="#3a3a3a" stroke-width="0.6"/>
<line x1="59.30" y1="668.40" x2="138.70" y2="668.40" stroke="#3a3a3a" stroke-width="0.7"/>
<path d="M138.70,668.40 L130.50,669.90 L130.50,666.90 Z" fill="#1a1a1a"/>
<line x1="59.30" y1="686.70" x2="150.20" y2="686.70" stroke="#3a3a3a" stroke-width="0.7"/>
<path d="M150.20,686.70 L142.00,688.20 L142.00,685.20 Z" fill="#1a1a1a"/>
<line x1="59.30" y1="705.10" x2="155.50" y2="705.10" stroke="#3a3a3a" stroke-width="0.7"/>
<path d="M155.50,705.10 L147.30,706.60 L147.30,703.60 Z" fill="#1a1a1a"/>
<line x1="138.70" y1="651.00" x2="138.70" y2="670.60" stroke="#3a3a3a" stroke-width="0.6"/>
<line x1="150.20" y1="651.00" x2="150.20" y2="688.50" stroke="#3a3a3a" stroke-width="0.6"/>
<line x1="155.50" y1="614.00" x2="155.50" y2="707.00" stroke="#3a3a3a" stroke-width="0.6"/>
<line x1="30.00" y1="514.00" x2="216.00" y2="514.00" stroke="#3a3a3a" stroke-width="0.6"/>
<line x1="30.00" y1="540.50" x2="139.00" y2="540.50" stroke="#3a3a3a" stroke-width="0.6"/>
<line x1="30.00" y1="592.50" x2="139.00" y2="592.50" stroke="#3a3a3a" stroke-width="0.6"/>
<line x1="30.00" y1="651.00" x2="216.00" y2="651.00" stroke="#3a3a3a" stroke-width="0.6"/>
<line x1="110.70" y1="514.00" x2="138.80" y2="514.00" stroke="#1a1a1a" stroke-width="1.2"/>
<line x1="110.70" y1="651.00" x2="150.20" y2="651.00" stroke="#1a1a1a" stroke-width="1.2"/>
<line x1="110.70" y1="540.50" x2="138.80" y2="540.50" stroke="#1a1a1a" stroke-width="1.1"/>
<line x1="110.70" y1="592.50" x2="138.80" y2="592.50" stroke="#1a1a1a" stroke-width="1.1"/>
<line x1="138.80" y1="514.00" x2="138.80" y2="651.00" stroke="#1a1a1a" stroke-width="1.2"/>
<path d="M138.8,514 H150.1 V563.5 H155.6 V588.5" stroke="#1a1a1a" stroke-width="1.2" fill="none"/>
<path d="M155.6,617.5 H150.1 V651" stroke="#1a1a1a" stroke-width="1.2" fill="none"/>
<line x1="110.60" y1="511.70" x2="110.60" y2="560.40" stroke="#3a3a3a" stroke-width="0.7"/>
<line x1="110.60" y1="567.30" x2="110.60" y2="601.40" stroke="#3a3a3a" stroke-width="0.7"/>
<line x1="110.60" y1="608.20" x2="110.60" y2="665.00" stroke="#3a3a3a" stroke-width="0.7"/>
<path d="M141.0,514 V528.8 H148.1 V514" stroke="#1a1a1a" stroke-width="1.3" fill="none"/>
<path d="M141.6,528.8 L144.55,533.6 L147.5,528.8" stroke="#1a1a1a" stroke-width="1.1" fill="none"/>
<line x1="144.55" y1="515.00" x2="144.55" y2="528.00" stroke="#3a3a3a" stroke-width="0.6"/>
<line x1="141.00" y1="530.60" x2="148.10" y2="530.60" stroke="#3a3a3a" stroke-width="0.6"/>
<path d="M155.6,588.5 H169.1 V592.4 H158" stroke="#1a1a1a" stroke-width="1.2" fill="none"/>
<rect x="159.9" y="592.4" width="3.5" height="22" rx="1.2" stroke="#1a1a1a" stroke-width="1.1" fill="#fff"/>
<rect x="173.2" y="593.0" width="4.5" height="20.4" rx="1.5" stroke="#1a1a1a" stroke-width="1.1" fill="#fff"/>
<rect x="163.40" y="594.00" width="8.10" height="4.00" rx="0" stroke="#3a3a3a" stroke-width="0.9" fill="#fff"/>
<circle cx="168.40" cy="603.20" r="6.00" stroke="#1a1a1a" stroke-width="1.2" fill="#fff"/>
<path d="M163.4,614.4 H155.7 V617.5" stroke="#1a1a1a" stroke-width="1.2" fill="none"/>
<line x1="150.10" y1="563.50" x2="197.70" y2="563.50" stroke="#3a3a3a" stroke-width="0.6"/>
<line x1="150.10" y1="617.50" x2="197.70" y2="617.50" stroke="#3a3a3a" stroke-width="0.6"/>
<line x1="152.90" y1="544.30" x2="174.00" y2="544.30" stroke="#3a3a3a" stroke-width="0.6"/>
<line x1="152.90" y1="636.30" x2="183.00" y2="636.30" stroke="#3a3a3a" stroke-width="0.6"/>
<line x1="171.70" y1="527.90" x2="171.70" y2="580.00" stroke="#3a3a3a" stroke-width="0.6"/>
<path d="M171.70,544.30 L170.20,536.10 L173.20,536.10 Z" fill="#1a1a1a"/>
<path d="M171.70,563.50 L173.20,571.70 L170.20,571.70 Z" fill="#1a1a1a"/>
<line x1="180.80" y1="601.00" x2="180.80" y2="652.00" stroke="#3a3a3a" stroke-width="0.6"/>
<path d="M180.80,617.50 L179.30,609.30 L182.30,609.30 Z" fill="#1a1a1a"/>
<path d="M180.80,636.30 L182.30,644.50 L179.30,644.50 Z" fill="#1a1a1a"/>
<line x1="195.50" y1="514.00" x2="195.50" y2="651.00" stroke="#3a3a3a" stroke-width="0.6"/>
<path d="M195.50,514.00 L197.00,522.20 L194.00,522.20 Z" fill="#1a1a1a"/>
<path d="M195.50,563.50 L194.00,555.30 L197.00,555.30 Z" fill="#1a1a1a"/>
<path d="M195.50,563.50 L197.00,571.70 L194.00,571.70 Z" fill="#1a1a1a"/>
<path d="M195.50,617.50 L194.00,609.30 L197.00,609.30 Z" fill="#1a1a1a"/>
<path d="M195.50,617.50 L197.00,625.70 L194.00,625.70 Z" fill="#1a1a1a"/>
<path d="M195.50,651.00 L194.00,642.80 L197.00,642.80 Z" fill="#1a1a1a"/>
<line x1="213.80" y1="514.00" x2="213.80" y2="651.00" stroke="#3a3a3a" stroke-width="0.6"/>
<path d="M213.80,514.00 L215.30,522.20 L212.30,522.20 Z" fill="#1a1a1a"/>
<path d="M213.80,651.00 L212.30,642.80 L215.30,642.80 Z" fill="#1a1a1a"/>
<line x1="31.60" y1="514.00" x2="31.60" y2="651.00" stroke="#3a3a3a" stroke-width="0.6"/>
<path d="M31.60,514.00 L33.10,522.20 L30.10,522.20 Z" fill="#1a1a1a"/>
<path d="M31.60,540.50 L30.10,532.30 L33.10,532.30 Z" fill="#1a1a1a"/>
<path d="M31.60,540.50 L33.10,548.70 L30.10,548.70 Z" fill="#1a1a1a"/>
<path d="M31.60,592.50 L30.10,584.30 L33.10,584.30 Z" fill="#1a1a1a"/>
<path d="M31.60,592.50 L33.10,600.70 L30.10,600.70 Z" fill="#1a1a1a"/>
<path d="M31.60,651.00 L30.10,642.80 L33.10,642.80 Z" fill="#1a1a1a"/>
<line x1="59.00" y1="559.00" x2="150.10" y2="559.00" stroke="#3a3a3a" stroke-width="0.7"/>
<path d="M150.10,559.00 L141.90,560.50 L141.90,557.50 Z" fill="#1a1a1a"/>
<line x1="59.00" y1="582.80" x2="138.80" y2="582.80" stroke="#3a3a3a" stroke-width="0.7"/>
<path d="M138.80,582.80 L130.60,584.30 L130.60,581.30 Z" fill="#1a1a1a"/>
<line x1="59.00" y1="626.50" x2="150.10" y2="626.50" stroke="#3a3a3a" stroke-width="0.7"/>
<path d="M150.10,626.50 L141.90,628.00 L141.90,625.00 Z" fill="#1a1a1a"/>
<circle cx="354.70" cy="703.80" r="126.00" stroke="#1a1a1a" stroke-width="1.3" fill="none"/>
<circle cx="354.70" cy="703.80" r="111.80" stroke="#3a3a3a" stroke-width="0.6" fill="none" stroke-dasharray="15 5.5"/>
<circle cx="354.70" cy="703.80" r="93.20" stroke="#1a1a1a" stroke-width="1.3" fill="none"/>
<circle cx="354.70" cy="703.80" r="59.00" stroke="#1a1a1a" stroke-width="1.3" fill="none"/>
<circle cx="354.70" cy="703.80" r="45.30" stroke="#1a1a1a" stroke-width="1.3" fill="none"/>
<circle cx="354.70" cy="703.80" r="40.00" stroke="#1a1a1a" stroke-width="1.2" fill="none"/>
<circle cx="354.70" cy="703.80" r="34.60" stroke="#3a3a3a" stroke-width="0.6" fill="none" stroke-dasharray="8 5"/>
<circle cx="354.70" cy="703.80" r="27.70" stroke="#1a1a1a" stroke-width="1.3" fill="none"/>
<circle cx="462.69" cy="674.86" r="4.60" stroke="#1a1a1a" stroke-width="1.1" fill="#fff"/>
<line x1="455.93" y1="676.68" x2="469.45" y2="673.05" stroke="#3a3a3a" stroke-width="0.5"/>
<line x1="464.50" y1="681.63" x2="460.88" y2="668.10" stroke="#3a3a3a" stroke-width="0.5"/>
<circle cx="433.75" cy="624.75" r="4.60" stroke="#1a1a1a" stroke-width="1.1" fill="#fff"/>
<line x1="428.80" y1="629.70" x2="438.70" y2="619.80" stroke="#3a3a3a" stroke-width="0.5"/>
<line x1="438.70" y1="629.70" x2="428.80" y2="619.80" stroke="#3a3a3a" stroke-width="0.5"/>
<circle cx="383.64" cy="595.81" r="4.60" stroke="#1a1a1a" stroke-width="1.1" fill="#fff"/>
<line x1="381.82" y1="602.57" x2="385.45" y2="589.05" stroke="#3a3a3a" stroke-width="0.5"/>
<line x1="390.40" y1="597.62" x2="376.87" y2="594.00" stroke="#3a3a3a" stroke-width="0.5"/>
<circle cx="325.76" cy="595.81" r="4.60" stroke="#1a1a1a" stroke-width="1.1" fill="#fff"/>
<line x1="327.58" y1="602.57" x2="323.95" y2="589.05" stroke="#3a3a3a" stroke-width="0.5"/>
<line x1="332.53" y1="594.00" x2="319.00" y2="597.62" stroke="#3a3a3a" stroke-width="0.5"/>
<circle cx="275.65" cy="624.75" r="4.60" stroke="#1a1a1a" stroke-width="1.1" fill="#fff"/>
<line x1="280.60" y1="629.70" x2="270.70" y2="619.80" stroke="#3a3a3a" stroke-width="0.5"/>
<line x1="280.60" y1="619.80" x2="270.70" y2="629.70" stroke="#3a3a3a" stroke-width="0.5"/>
<circle cx="246.71" cy="674.86" r="4.60" stroke="#1a1a1a" stroke-width="1.1" fill="#fff"/>
<line x1="253.47" y1="676.68" x2="239.95" y2="673.05" stroke="#3a3a3a" stroke-width="0.5"/>
<line x1="248.52" y1="668.10" x2="244.90" y2="681.63" stroke="#3a3a3a" stroke-width="0.5"/>
<circle cx="246.71" cy="732.74" r="4.60" stroke="#1a1a1a" stroke-width="1.1" fill="#fff"/>
<line x1="253.47" y1="730.92" x2="239.95" y2="734.55" stroke="#3a3a3a" stroke-width="0.5"/>
<line x1="244.90" y1="725.97" x2="248.52" y2="739.50" stroke="#3a3a3a" stroke-width="0.5"/>
<circle cx="275.65" cy="782.85" r="4.60" stroke="#1a1a1a" stroke-width="1.1" fill="#fff"/>
<line x1="280.60" y1="777.90" x2="270.70" y2="787.80" stroke="#3a3a3a" stroke-width="0.5"/>
<line x1="270.70" y1="777.90" x2="280.60" y2="787.80" stroke="#3a3a3a" stroke-width="0.5"/>
<circle cx="325.76" cy="811.79" r="4.60" stroke="#1a1a1a" stroke-width="1.1" fill="#fff"/>
<line x1="327.58" y1="805.03" x2="323.95" y2="818.55" stroke="#3a3a3a" stroke-width="0.5"/>
<line x1="319.00" y1="809.98" x2="332.53" y2="813.60" stroke="#3a3a3a" stroke-width="0.5"/>
<circle cx="383.64" cy="811.79" r="4.60" stroke="#1a1a1a" stroke-width="1.1" fill="#fff"/>
<line x1="381.82" y1="805.03" x2="385.45" y2="818.55" stroke="#3a3a3a" stroke-width="0.5"/>
<line x1="376.87" y1="813.60" x2="390.40" y2="809.98" stroke="#3a3a3a" stroke-width="0.5"/>
<circle cx="433.75" cy="782.85" r="4.60" stroke="#1a1a1a" stroke-width="1.1" fill="#fff"/>
<line x1="428.80" y1="777.90" x2="438.70" y2="787.80" stroke="#3a3a3a" stroke-width="0.5"/>
<line x1="428.80" y1="787.80" x2="438.70" y2="777.90" stroke="#3a3a3a" stroke-width="0.5"/>
<circle cx="462.69" cy="732.74" r="4.60" stroke="#1a1a1a" stroke-width="1.1" fill="#fff"/>
<line x1="455.93" y1="730.92" x2="469.45" y2="734.55" stroke="#3a3a3a" stroke-width="0.5"/>
<line x1="460.88" y1="739.50" x2="464.50" y2="725.97" stroke="#3a3a3a" stroke-width="0.5"/>
<circle cx="466.70" cy="703.80" r="7.50" stroke="#333" stroke-width="2.1" fill="#fff"/>
<circle cx="466.70" cy="703.80" r="7.50" stroke="#999" stroke-width="0.4" fill="none"/>
<polygon points="466.70,708.00 463.06,705.90 463.06,701.70 466.70,699.60 470.34,701.70 470.34,705.90" stroke="#1a1a1a" stroke-width="1.0" fill="none"/>
<circle cx="466.70" cy="703.80" r="2.30" stroke="#3a3a3a" stroke-width="0.8" fill="none"/>
<circle cx="354.70" cy="591.80" r="7.50" stroke="#333" stroke-width="2.1" fill="#fff"/>
<circle cx="354.70" cy="591.80" r="7.50" stroke="#999" stroke-width="0.4" fill="none"/>
<polygon points="354.70,596.00 351.06,593.90 351.06,589.70 354.70,587.60 358.34,589.70 358.34,593.90" stroke="#1a1a1a" stroke-width="1.0" fill="none"/>
<circle cx="354.70" cy="591.80" r="2.30" stroke="#3a3a3a" stroke-width="0.8" fill="none"/>
<circle cx="242.70" cy="703.80" r="7.50" stroke="#333" stroke-width="2.1" fill="#fff"/>
<circle cx="242.70" cy="703.80" r="7.50" stroke="#999" stroke-width="0.4" fill="none"/>
<polygon points="242.70,708.00 239.06,705.90 239.06,701.70 242.70,699.60 246.34,701.70 246.34,705.90" stroke="#1a1a1a" stroke-width="1.0" fill="none"/>
<circle cx="242.70" cy="703.80" r="2.30" stroke="#3a3a3a" stroke-width="0.8" fill="none"/>
<circle cx="354.70" cy="815.80" r="7.50" stroke="#333" stroke-width="2.1" fill="#fff"/>
<circle cx="354.70" cy="815.80" r="7.50" stroke="#999" stroke-width="0.4" fill="none"/>
<polygon points="354.70,820.00 351.06,817.90 351.06,813.70 354.70,811.60 358.34,813.70 358.34,817.90" stroke="#1a1a1a" stroke-width="1.0" fill="none"/>
<circle cx="354.70" cy="815.80" r="2.30" stroke="#3a3a3a" stroke-width="0.8" fill="none"/>
<circle cx="379.17" cy="679.33" r="3.50" stroke="#1a1a1a" stroke-width="1.3" fill="#fff"/>
<line x1="376.97" y1="679.33" x2="381.37" y2="679.33" stroke="#3a3a3a" stroke-width="0.5"/>
<line x1="379.17" y1="677.13" x2="379.17" y2="681.53" stroke="#3a3a3a" stroke-width="0.5"/>
<circle cx="345.74" cy="670.38" r="3.50" stroke="#1a1a1a" stroke-width="1.3" fill="#fff"/>
<line x1="343.54" y1="670.38" x2="347.94" y2="670.38" stroke="#3a3a3a" stroke-width="0.5"/>
<line x1="345.74" y1="668.18" x2="345.74" y2="672.58" stroke="#3a3a3a" stroke-width="0.5"/>
<circle cx="321.28" cy="694.84" r="3.50" stroke="#1a1a1a" stroke-width="1.3" fill="#fff"/>
<line x1="319.08" y1="694.84" x2="323.48" y2="694.84" stroke="#3a3a3a" stroke-width="0.5"/>
<line x1="321.28" y1="692.64" x2="321.28" y2="697.04" stroke="#3a3a3a" stroke-width="0.5"/>
<circle cx="330.23" cy="728.27" r="3.50" stroke="#1a1a1a" stroke-width="1.3" fill="#fff"/>
<line x1="328.03" y1="728.27" x2="332.43" y2="728.27" stroke="#3a3a3a" stroke-width="0.5"/>
<line x1="330.23" y1="726.07" x2="330.23" y2="730.47" stroke="#3a3a3a" stroke-width="0.5"/>
<circle cx="363.66" cy="737.22" r="3.50" stroke="#1a1a1a" stroke-width="1.3" fill="#fff"/>
<line x1="361.46" y1="737.22" x2="365.86" y2="737.22" stroke="#3a3a3a" stroke-width="0.5"/>
<line x1="363.66" y1="735.02" x2="363.66" y2="739.42" stroke="#3a3a3a" stroke-width="0.5"/>
<circle cx="388.12" cy="712.76" r="3.50" stroke="#1a1a1a" stroke-width="1.3" fill="#fff"/>
<line x1="385.92" y1="712.76" x2="390.32" y2="712.76" stroke="#3a3a3a" stroke-width="0.5"/>
<line x1="388.12" y1="710.56" x2="388.12" y2="714.96" stroke="#3a3a3a" stroke-width="0.5"/>
<line x1="354.70" y1="565.00" x2="354.70" y2="584.50" stroke="#3a3a3a" stroke-width="0.7"/>
<line x1="354.70" y1="605.80" x2="354.70" y2="639.70" stroke="#3a3a3a" stroke-width="0.7"/>
<line x1="354.70" y1="644.50" x2="354.70" y2="653.30" stroke="#3a3a3a" stroke-width="0.7"/>
<line x1="354.70" y1="659.40" x2="354.70" y2="698.00" stroke="#3a3a3a" stroke-width="0.7"/>
<line x1="354.70" y1="700.50" x2="354.70" y2="706.50" stroke="#3a3a3a" stroke-width="0.7"/>
<line x1="354.70" y1="713.00" x2="354.70" y2="749.70" stroke="#3a3a3a" stroke-width="0.7"/>
<line x1="354.70" y1="754.00" x2="354.70" y2="761.00" stroke="#3a3a3a" stroke-width="0.7"/>
<line x1="354.70" y1="768.00" x2="354.70" y2="801.60" stroke="#3a3a3a" stroke-width="0.7"/>
<line x1="354.70" y1="823.50" x2="354.70" y2="842.60" stroke="#3a3a3a" stroke-width="0.7"/>
<line x1="215.10" y1="703.80" x2="233.90" y2="703.80" stroke="#3a3a3a" stroke-width="0.7"/>
<line x1="256.20" y1="703.80" x2="290.10" y2="703.80" stroke="#3a3a3a" stroke-width="0.7"/>
<line x1="294.70" y1="703.80" x2="299.00" y2="703.80" stroke="#3a3a3a" stroke-width="0.7"/>
<line x1="302.60" y1="703.80" x2="343.50" y2="703.80" stroke="#3a3a3a" stroke-width="0.7"/>
<line x1="350.00" y1="703.80" x2="359.50" y2="703.80" stroke="#3a3a3a" stroke-width="0.7"/>
<line x1="364.50" y1="703.80" x2="398.60" y2="703.80" stroke="#3a3a3a" stroke-width="0.7"/>
<line x1="405.40" y1="703.80" x2="412.20" y2="703.80" stroke="#3a3a3a" stroke-width="0.7"/>
<line x1="419.00" y1="703.80" x2="452.00" y2="703.80" stroke="#3a3a3a" stroke-width="0.7"/>
<line x1="474.30" y1="703.80" x2="493.00" y2="703.80" stroke="#3a3a3a" stroke-width="0.7"/>
<line x1="244.10" y1="638.60" x2="486.50" y2="781.40" stroke="#3a3a3a" stroke-width="0.6"/>
<line x1="486.50" y1="781.70" x2="486.50" y2="804.00" stroke="#3a3a3a" stroke-width="0.6"/>
<path d="M258.20,646.80 L250.37,643.93 L251.90,641.35 Z" fill="#1a1a1a"/>
<path d="M451.20,760.40 L459.03,763.27 L457.50,765.85 Z" fill="#1a1a1a"/>
<line x1="443.30" y1="724.20" x2="521.40" y2="760.00" stroke="#3a3a3a" stroke-width="0.6"/>
<line x1="521.40" y1="760.00" x2="521.40" y2="805.10" stroke="#3a3a3a" stroke-width="0.6"/>
<path d="M457.00,730.60 L448.91,728.58 L450.15,725.85 Z" fill="#1a1a1a"/>
<path d="M467.20,734.20 L475.29,736.22 L474.05,738.95 Z" fill="#1a1a1a"/>
<line x1="307.60" y1="723.70" x2="514.80" y2="635.50" stroke="#3a3a3a" stroke-width="0.6"/>
<line x1="514.80" y1="635.50" x2="514.80" y2="604.00" stroke="#3a3a3a" stroke-width="0.6"/>
<path d="M317.90,719.30 L310.95,723.90 L309.77,721.14 Z" fill="#1a1a1a"/>
<path d="M391.50,687.90 L398.45,683.30 L399.63,686.06 Z" fill="#1a1a1a"/>
<line x1="384.00" y1="676.80" x2="488.60" y2="624.10" stroke="#3a3a3a" stroke-width="0.6"/>
<line x1="488.60" y1="624.10" x2="488.60" y2="596.20" stroke="#3a3a3a" stroke-width="0.6"/>
<line x1="360.20" y1="689.20" x2="371.60" y2="683.40" stroke="#3a3a3a" stroke-width="0.6"/>
<path d="M372.00,682.60 L365.37,687.66 L364.01,684.99 Z" fill="#1a1a1a"/>
<path d="M384.30,676.40 L390.93,671.34 L392.29,674.01 Z" fill="#1a1a1a"/>
<path d="M479.82,599.67 L472.20,604.00 L479.82,608.33" stroke="#2a2a2a" stroke-width="0.8" fill="none"/>
<line x1="472.20" y1="604.00" x2="484.66" y2="604.00" stroke="#2a2a2a" stroke-width="0.8"/>
<line x1="484.66" y1="597.72" x2="484.66" y2="610.28" stroke="#2a2a2a" stroke-width="0.8"/>
<text transform="translate(476.50 38.29) rotate(90) scale(0.720 1)" font-size="13.0" fill="#2a2a2a" stroke="#fff" stroke-width="0.22" letter-spacing="1.387">16-M3</text>
<text transform="translate(459.00 58.52) rotate(90) scale(0.720 1)" font-size="13.0" fill="#2a2a2a" stroke="#fff" stroke-width="0.22" letter-spacing="0.000">6</text>
<text transform="translate(453.40 184.06) rotate(90) scale(0.720 1)" font-size="13.0" fill="#2a2a2a" stroke="#fff" stroke-width="0.22" letter-spacing="1.793"><tspan font-size="15.5">ø</tspan>62</text>
<text transform="translate(402.70 214.93) rotate(90) scale(0.720 1)" font-size="13.0" fill="#2a2a2a" stroke="#fff" stroke-width="0.22" letter-spacing="1.376">MAX&#160;1,7</text>
<line x1="414.50" y1="259.30" x2="414.50" y2="264.70" stroke="#2a2a2a" stroke-width="1.1"/>
<line x1="412.16" y1="260.65" x2="416.84" y2="263.35" stroke="#2a2a2a" stroke-width="1.1"/>
<line x1="412.16" y1="263.35" x2="416.84" y2="260.65" stroke="#2a2a2a" stroke-width="1.1"/>
<text transform="translate(335.76 267.90) scale(0.720 1)" font-size="13.0" fill="#2a2a2a" stroke="#fff" stroke-width="0.22" letter-spacing="1.616"><tspan font-size="15.5">ø</tspan>70&#160;H7</text>
<text transform="translate(328.73 287.40) scale(0.720 1)" font-size="13.0" fill="#2a2a2a" stroke="#fff" stroke-width="0.22" letter-spacing="2.506">MAX&#160;<tspan font-size="15.5">ø</tspan>47</text>
<line x1="390.60" y1="274.60" x2="390.60" y2="280.00" stroke="#2a2a2a" stroke-width="1.1"/>
<line x1="388.26" y1="275.95" x2="392.94" y2="278.65" stroke="#2a2a2a" stroke-width="1.1"/>
<line x1="388.26" y1="278.65" x2="392.94" y2="275.95" stroke="#2a2a2a" stroke-width="1.1"/>
<text transform="translate(331.63 471.20) scale(0.720 1)" font-size="13.0" fill="#2a2a2a" stroke="#fff" stroke-width="0.22" letter-spacing="1.754">MIN&#160;<tspan font-size="15.5">ø</tspan>55</text>
<line x1="385.10" y1="460.40" x2="385.10" y2="465.80" stroke="#2a2a2a" stroke-width="1.1"/>
<line x1="382.76" y1="461.75" x2="387.44" y2="464.45" stroke="#2a2a2a" stroke-width="1.1"/>
<line x1="382.76" y1="464.45" x2="387.44" y2="461.75" stroke="#2a2a2a" stroke-width="1.1"/>
<text transform="translate(335.06 494.70) scale(0.720 1)" font-size="13.0" fill="#2a2a2a" stroke="#fff" stroke-width="0.22" letter-spacing="1.892"><tspan font-size="15.5">ø</tspan>70&#160;h6</text>
<text transform="translate(336.26 517.80) scale(0.720 1)" font-size="13.0" fill="#2a2a2a" stroke="#fff" stroke-width="0.22" letter-spacing="1.936"><tspan font-size="15.5">ø</tspan>90&#160;h7</text>
<text transform="translate(560.70 314.59) rotate(90) scale(0.720 1)" font-size="13.0" fill="#2a2a2a" stroke="#fff" stroke-width="0.22" letter-spacing="0.000">8</text>
<text transform="translate(532.30 347.33) rotate(90) scale(0.720 1)" font-size="13.0" fill="#2a2a2a" stroke="#fff" stroke-width="0.22" letter-spacing="0.994">20,5</text>
<text transform="translate(560.70 360.53) rotate(90) scale(0.720 1)" font-size="13.0" fill="#2a2a2a" stroke="#fff" stroke-width="0.22" letter-spacing="2.921">29</text>
<text transform="translate(560.70 414.29) rotate(90) scale(0.720 1)" font-size="13.0" fill="#2a2a2a" stroke="#fff" stroke-width="0.22" letter-spacing="1.106">14,5</text>
<line x1="569.60" y1="437.10" x2="569.60" y2="442.50" stroke="#2a2a2a" stroke-width="1.1"/>
<line x1="567.26" y1="438.45" x2="571.94" y2="441.15" stroke="#2a2a2a" stroke-width="1.1"/>
<line x1="567.26" y1="441.15" x2="571.94" y2="438.45" stroke="#2a2a2a" stroke-width="1.1"/>
<text transform="translate(594.30 366.03) rotate(90) scale(0.720 1)" font-size="13.0" fill="#2a2a2a" stroke="#fff" stroke-width="0.22" letter-spacing="0.533">51,5</text>
<text transform="translate(516.40 426.92) rotate(90) scale(0.720 1)" font-size="13.0" fill="#2a2a2a" stroke="#fff" stroke-width="0.22" letter-spacing="1.431">7,5</text>
<text transform="translate(242.80 427.03) rotate(90) scale(0.720 1)" font-size="13.0" fill="#2a2a2a" stroke="#fff" stroke-width="0.22" letter-spacing="0.808">MIN&#160;1,5</text>
<line x1="255.60" y1="471.30" x2="255.60" y2="476.70" stroke="#2a2a2a" stroke-width="1.1"/>
<line x1="253.26" y1="472.65" x2="257.94" y2="475.35" stroke="#2a2a2a" stroke-width="1.1"/>
<line x1="253.26" y1="475.35" x2="257.94" y2="472.65" stroke="#2a2a2a" stroke-width="1.1"/>
<text transform="translate(83.76 450.00) scale(0.720 1)" font-size="13.0" fill="#2a2a2a" stroke="#fff" stroke-width="0.22" letter-spacing="1.865"><tspan font-size="15.5">ø</tspan>34</text>
<text transform="translate(76.06 470.00) scale(0.720 1)" font-size="13.0" fill="#2a2a2a" stroke="#fff" stroke-width="0.22" letter-spacing="1.992"><tspan font-size="15.5">ø</tspan>30&#160;h7</text>
<text transform="translate(76.46 490.70) scale(0.720 1)" font-size="13.0" fill="#2a2a2a" stroke="#fff" stroke-width="0.22" letter-spacing="1.338"><tspan font-size="15.5">ø</tspan>21&#160;H7</text>
<text transform="translate(34.90 522.60) rotate(90) scale(0.702 1)" font-size="13.0" fill="#2a2a2a" stroke="#fff" stroke-width="0.22" letter-spacing="0.000">10</text>
<text transform="translate(35.60 556.59) rotate(90) scale(0.720 1)" font-size="13.0" fill="#2a2a2a" stroke="#fff" stroke-width="0.22" letter-spacing="0.458">19,5</text>
<text transform="translate(34.80 615.73) rotate(90) scale(0.720 1)" font-size="13.0" fill="#2a2a2a" stroke="#fff" stroke-width="0.22" letter-spacing="2.542">22</text>
<text transform="translate(75.36 554.00) scale(0.720 1)" font-size="13.0" fill="#2a2a2a" stroke="#fff" stroke-width="0.22" letter-spacing="1.490"><tspan font-size="15.5">ø</tspan>30&#160;&#160;j6</text>
<text transform="translate(81.36 580.70) scale(0.720 1)" font-size="13.0" fill="#2a2a2a" stroke="#fff" stroke-width="0.22" letter-spacing="0.729"><tspan font-size="15.5">ø</tspan>21.5</text>
<text transform="translate(76.16 621.50) scale(0.720 1)" font-size="13.0" fill="#2a2a2a" stroke="#fff" stroke-width="0.22" letter-spacing="1.305"><tspan font-size="15.5">ø</tspan>30&#160;&#160;j6</text>
<text transform="translate(199.50 529.29) rotate(90) scale(0.720 1)" font-size="13.0" fill="#2a2a2a" stroke="#fff" stroke-width="0.22" letter-spacing="0.597">18,5</text>
<text transform="translate(175.00 551.72) rotate(90) scale(0.720 1)" font-size="13.0" fill="#2a2a2a" stroke="#fff" stroke-width="0.22" letter-spacing="0.000">7</text>
<text transform="translate(199.50 580.13) rotate(90) scale(0.720 1)" font-size="13.0" fill="#2a2a2a" stroke="#fff" stroke-width="0.22" letter-spacing="1.179">20,5</text>
<text transform="translate(217.90 572.53) rotate(90) scale(0.720 1)" font-size="13.0" fill="#2a2a2a" stroke="#fff" stroke-width="0.22" letter-spacing="0.764">51,5</text>
<text transform="translate(184.20 624.52) rotate(90) scale(0.720 1)" font-size="13.0" fill="#2a2a2a" stroke="#fff" stroke-width="0.22" letter-spacing="0.000">7</text>
<text transform="translate(199.50 625.09) rotate(90) scale(0.720 1)" font-size="13.0" fill="#2a2a2a" stroke="#fff" stroke-width="0.22" letter-spacing="0.226">12,5</text>
<text transform="translate(76.66 666.00) scale(0.720 1)" font-size="13.0" fill="#2a2a2a" stroke="#fff" stroke-width="0.22" letter-spacing="1.310"><tspan font-size="15.5">ø</tspan>21&#160;H7</text>
<text transform="translate(76.66 684.00) scale(0.720 1)" font-size="13.0" fill="#2a2a2a" stroke="#fff" stroke-width="0.22" letter-spacing="1.742"><tspan font-size="15.5">ø</tspan>30&#160;h7</text>
<text transform="translate(82.76 702.50) scale(0.720 1)" font-size="13.0" fill="#2a2a2a" stroke="#fff" stroke-width="0.22" letter-spacing="1.726"><tspan font-size="15.5">ø</tspan>34</text>
<text transform="translate(491.10 595.22) rotate(90) scale(0.720 1)" font-size="13.0" fill="#2a2a2a" stroke="#fff" stroke-width="0.22" letter-spacing="2.251">6-M3</text>
<text transform="translate(473.60 615.32) rotate(90) scale(0.720 1)" font-size="13.0" fill="#2a2a2a" stroke="#fff" stroke-width="0.22" letter-spacing="0.000">6</text>
<text transform="translate(518.50 603.76) rotate(90) scale(0.720 1)" font-size="13.0" fill="#2a2a2a" stroke="#fff" stroke-width="0.22" letter-spacing="1.006"><tspan font-size="15.5">ø</tspan>25,5</text>
<text transform="translate(524.20 766.49) rotate(90) scale(0.720 1)" font-size="13.0" fill="#2a2a2a" stroke="#fff" stroke-width="0.22" letter-spacing="1.308">12-<tspan font-size="15.5">ø</tspan>3,5</text>
<text transform="translate(489.20 784.26) rotate(90) scale(0.720 1)" font-size="13.0" fill="#2a2a2a" stroke="#fff" stroke-width="0.22" letter-spacing="1.935"><tspan font-size="15.5">ø</tspan>84</text>
</svg></body></html>
